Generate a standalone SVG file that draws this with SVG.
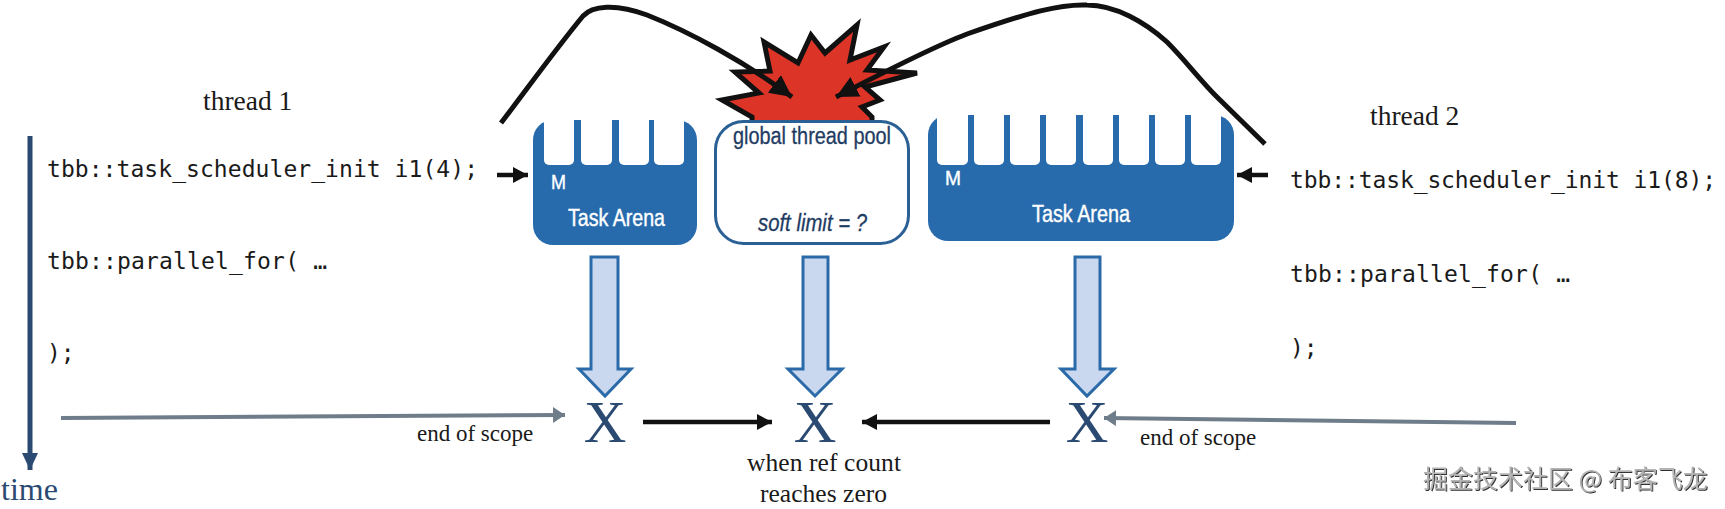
<svg xmlns="http://www.w3.org/2000/svg" width="1725" height="509" viewBox="0 0 1725 509">
<style>
.code{font-family:"DejaVu Sans Mono","Liberation Mono",monospace;font-size:23px;fill:#1a1a1a}
.serif{font-family:"Liberation Serif","Times New Roman",serif;fill:#1a1a1a}
.sans{font-family:"Liberation Sans",Arial,sans-serif}
.white{fill:#fff;stroke:#fff;stroke-width:.4}
.navy{fill:#1f3c63;stroke:#1f3c63;stroke-width:.3}
.arena{fill:#276bad}
.notch{fill:#fff}
.block{fill:#c9d8ef;stroke:#2a6aa8;stroke-width:3}
.x{font-family:"Liberation Serif","Times New Roman",serif;font-size:59px;fill:#2a4a72;text-anchor:middle}
.curve{fill:none;stroke:#111;stroke-width:5}
.bk{stroke:#111;stroke-width:4.500;fill:none}
.gy{stroke:#6f7c8a;stroke-width:4;fill:none}
</style>
<defs>
<marker id="ah" markerUnits="userSpaceOnUse" markerWidth="18" markerHeight="18" refX="15" refY="8" orient="auto"><path d="M0 0L15 8L0 16z" fill="#111"/></marker>
<marker id="ac" markerUnits="userSpaceOnUse" markerWidth="24" markerHeight="24" refX="22" refY="11" orient="auto"><path d="M0 0L22 11L0 22z" fill="#111"/></marker>
<marker id="ag" markerUnits="userSpaceOnUse" markerWidth="14" markerHeight="18" refX="12" refY="8" orient="auto"><path d="M0 0L12 8L0 16z" fill="#6f7c8a"/></marker>
<marker id="at" markerUnits="userSpaceOnUse" markerWidth="18" markerHeight="22" refX="17" refY="8" orient="auto"><path d="M0 0L17 8L0 16z" fill="#2a4a72"/></marker>
<filter id="emboss" x="-5%" y="-20%" width="110%" height="140%"><feDropShadow dx="1" dy="1" stdDeviation=".6" flood-color="#333"/></filter>
</defs>
<rect width="1725" height="509" fill="#fff"/>
<g id="explosion"><polygon points="752,124 752,117 722,100 759,93 735,72 770,71 764,42 798,63 811,35 825,53 857,25 850,60 884,47 867,70 917,73 865,87 880,100 862,107 872,117 872,124" fill="#dc3527" stroke="#111" stroke-width="5" stroke-linejoin="miter"/></g>
<g id="arena-left">
<rect x="533" y="120" width="164" height="125" rx="20" class="arena"/>
<g class="notch"><rect x="544" y="110" width="30" height="55" rx="5"/><rect x="581" y="110" width="31" height="55" rx="5"/><rect x="619" y="110" width="30" height="55" rx="5"/><rect x="654" y="110" width="30" height="55" rx="5"/></g>
<text x="551" y="189" class="sans white" font-size="21" textLength="15" lengthAdjust="spacingAndGlyphs">M</text>
<text x="568" y="226" class="sans white" font-size="23" textLength="97" lengthAdjust="spacingAndGlyphs">Task Arena</text>
</g>
<g id="pool">
<rect x="715.500" y="121.500" width="193" height="122" rx="28" fill="#fff" stroke="#2a6094" stroke-width="3"/>
<text x="733" y="144" class="sans navy" font-size="23" textLength="158" lengthAdjust="spacingAndGlyphs">global thread pool</text>
<text x="758" y="231" class="sans navy" font-size="23" font-style="italic" textLength="109" lengthAdjust="spacingAndGlyphs">soft limit = ?</text>
</g>
<g id="arena-right">
<rect x="928" y="115" width="306" height="126" rx="20" class="arena"/>
<g class="notch"><rect x="937" y="105" width="31" height="60" rx="5"/><rect x="974" y="105" width="30" height="60" rx="5"/><rect x="1010" y="105" width="30" height="60" rx="5"/><rect x="1046" y="105" width="30" height="60" rx="5"/><rect x="1083" y="105" width="30" height="60" rx="5"/><rect x="1119" y="105" width="30" height="60" rx="5"/><rect x="1155" y="105" width="30" height="60" rx="5"/><rect x="1191" y="105" width="30" height="60" rx="5"/></g>
<text x="945" y="185" class="sans white" font-size="21" textLength="16" lengthAdjust="spacingAndGlyphs">M</text>
<text x="1032" y="222" class="sans white" font-size="23" textLength="98" lengthAdjust="spacingAndGlyphs">Task Arena</text>
</g>
<g id="connectors">
<path class="curve" marker-end="url(#ac)" d="M501 123C530 85 555 50 583 16C592 6 615 3 647 15C690 32 745 62 792 97"/>
<path class="curve" marker-end="url(#ac)" d="M1265 144L1217 97C1200 80 1185 60 1167 42C1145 22 1115 5 1087 5C1060 4 1030 12 967 34Q930 48 836 97"/>
<path class="bk" marker-end="url(#ah)" d="M497 175H528"/>
<path class="bk" marker-end="url(#ah)" d="M1268 175H1237"/>
<path class="bk" marker-end="url(#ah)" d="M643 422H772"/>
<path class="bk" marker-end="url(#ah)" d="M1050 422H862"/>
<path class="gy" marker-end="url(#ag)" d="M61 418L565 415"/>
<path class="gy" marker-end="url(#ag)" d="M1516 423L1104 418"/>
<path stroke="#2a4a72" stroke-width="5" fill="none" marker-end="url(#at)" d="M30 136V470"/>
<polygon class="block" points="591,257 618,257 618,369 631,369 605,396 579,369 591,369"/>
<polygon class="block" points="803,257 828,257 828,369 842,369 815,396 788,369 803,369"/>
<polygon class="block" points="1075,257 1100,257 1100,369 1114,369 1087,396 1061,369 1075,369"/>
</g>
<g id="x-left"><text x="605" y="442" class="x">X</text></g>
<g id="x-center"><text x="815" y="442" class="x">X</text></g>
<g id="x-right"><text x="1087" y="442" class="x">X</text></g>
<g id="labels">
<text x="203" y="110" class="serif" font-size="27.500">thread 1</text>
<text x="1370" y="125" class="serif" font-size="27.500">thread 2</text>
<text x="47" y="176.500" class="code" textLength="431">tbb::task_scheduler_init i1(4);</text>
<text x="47" y="269" class="code" textLength="280">tbb::parallel_for( …</text>
<text x="47" y="361" class="code">);</text>
<text x="1290" y="188" class="code" textLength="426">tbb::task_scheduler_init i1(8);</text>
<text x="1290" y="282" class="code" textLength="280">tbb::parallel_for( …</text>
<text x="1290" y="356" class="code">);</text>
<text x="1" y="500" font-size="32" font-family="Liberation Serif,serif" fill="#2a4a72">time</text>
<text x="417" y="441" class="serif" font-size="23">end of scope</text>
<text x="1140" y="445" class="serif" font-size="23">end of scope</text>
<text x="747" y="471" class="serif" font-size="25.500" textLength="154">when ref count</text>
<text x="760" y="502" class="serif" font-size="25.500" textLength="127">reaches zero</text>
<text x="1423" y="488" font-size="25" font-family="Noto Sans CJK SC,Noto Sans,sans-serif" fill="#b4b4b4" filter="url(#emboss)">掘金技术社区 @ 布客飞龙</text>
</g>
</svg>
